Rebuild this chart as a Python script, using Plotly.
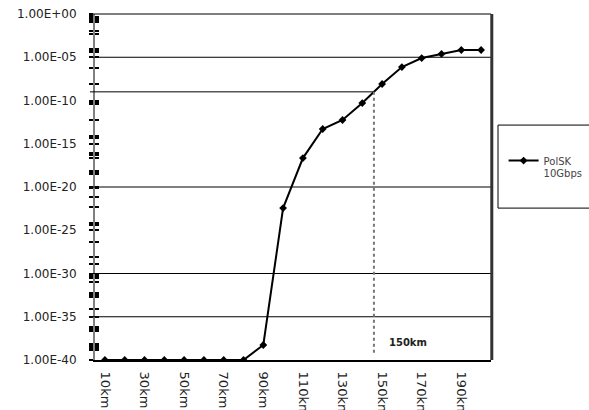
import numpy as np
import plotly.graph_objects as go

# Fibre length and measured bit error rate for the PolSK 10 Gbps link
distance_km = [10, 20, 30, 40, 50, 60, 70, 80, 90, 100,
               110, 120, 130, 140, 150, 160, 170, 180, 190, 200]
ber = [1e-40, 1e-40, 1e-40, 1e-40, 1e-40, 1e-40, 1e-40, 1e-40, 5.4e-39, 3.7e-23,
       2.2e-17, 5.1e-14, 5.6e-13, 5.1e-11, 8.1e-9, 7.4e-7, 8.1e-6, 2.4e-5, 6.9e-5, 6.9e-5]
series_name = "PolSK<br>10Gbps"

x_tick_vals = [10, 30, 50, 70, 90, 110, 130, 150, 170, 190]
x_tick_text = ["10km", "30km", "50km", "70km", "90km",
               "110km", "130km", "150km", "170km", "190km"]

y_tick_vals = [1e0, 1e-5, 1e-10, 1e-15, 1e-20, 1e-25, 1e-30, 1e-35, 1e-40]
y_tick_text = ["1.00E+00", "1.00E-05", "1.00E-10", "1.00E-15", "1.00E-20",
               "1.00E-25", "1.00E-30", "1.00E-35", "1.00E-40"]

# exponents of the crowded minor tick marks along the value axis
minor_tick_exps = [0.1, 0.3, 0.5, 0.7, 0.9, 2.0, 2.3, 4.0, 4.3, 4.4, 6.2, 8.1,
                   10.2, 10.4, 12.3, 14.1, 14.3, 16.1, 16.3, 16.6, 18.1, 18.3, 18.5,
                   20.1, 21.1, 22.3, 24.2, 24.4, 26.4, 28.1, 28.9, 30.1, 30.3, 30.5,
                   31.0, 32.3, 32.5, 32.7, 34.1, 36.2, 36.4, 36.6, 38.2, 38.4, 38.6, 38.8]

grid_levels = [1e-5, 1e-20, 1e-30, 1e-35]   # full-width reference lines
threshold_ber = 1e-9                        # reach limit marked on the chart
reach_label = "150km"

Y_LOG_RANGE = [-40, 0]
X_RANGE = [5, 205]


def y_paper(v):
    """Position of a BER value as a fraction of the plot height."""
    return (np.log10(v) - Y_LOG_RANGE[0]) / (Y_LOG_RANGE[1] - Y_LOG_RANGE[0])


def x_paper(d):
    return (d - X_RANGE[0]) / (X_RANGE[1] - X_RANGE[0])


# distance at which the curve crosses the threshold (interpolated in log space)
log_ber = np.log10(ber)
t = np.log10(threshold_ber)
i = int(np.argmax(log_ber >= t))
x_cross = distance_km[i - 1] + (t - log_ber[i - 1]) / (log_ber[i] - log_ber[i - 1]) * (
    distance_km[i] - distance_km[i - 1])

fig = go.Figure()
fig.add_trace(go.Scatter(
    x=distance_km, y=ber, name=series_name, mode="lines+markers",
    line=dict(color="black", width=2),
    marker=dict(color="black", size=6, symbol="diamond"),
))
# empty companion trace so the mirrored tick axis is laid out
fig.add_trace(go.Scatter(x=[], y=[], yaxis="y2", showlegend=False, hoverinfo="skip"))

left_pad = -0.0126
shapes = []
for v in grid_levels:
    shapes.append(dict(type="line", xref="paper", yref="paper", x0=left_pad, x1=1,
                       y0=y_paper(v), y1=y_paper(v), line=dict(color="black", width=1)))
# threshold line stops at the curve, then drops to the axis
yt = y_paper(threshold_ber)
shapes.append(dict(type="line", xref="paper", yref="paper", x0=left_pad,
                   x1=x_paper(x_cross), y0=yt, y1=yt,
                   line=dict(color="black", width=1)))
shapes.append(dict(type="line", xref="paper", yref="paper",
                   x0=x_paper(x_cross), x1=x_paper(x_cross), y0=yt, y1=0.02,
                   line=dict(color="#777777", width=2, dash="3px,3px")))
# frame: top edge and heavy right edge
shapes.append(dict(type="line", xref="paper", yref="paper", x0=left_pad, x1=1,
                   y0=1, y1=1, line=dict(color="black", width=1)))
shapes.append(dict(type="line", xref="paper", yref="paper", x0=1.002, x1=1.002,
                   y0=0, y1=1, line=dict(color="#333333", width=3)))
# legend frame
shapes.append(dict(type="rect", xref="paper", yref="paper", x0=1.0177, x1=1.35,
                   y0=0.439, y1=0.679, line=dict(color="black", width=1)))

minor_vals = [10 ** (-e) for e in minor_tick_exps]
tick_font = dict(family="DejaVu Sans", size=12, color="#222222")

fig.update_layout(
    width=589, height=410,
    margin=dict(l=95, r=98, t=14, b=50, autoexpand=False),
    paper_bgcolor="white", plot_bgcolor="white",
    template="none",
    showlegend=True,
    legend=dict(xref="container", yref="container", x=0.855, y=0.64,
                xanchor="left", yanchor="top",
                bgcolor="rgba(0,0,0,0)", borderwidth=0, valign="top",
                font=dict(family="DejaVu Sans", size=10, color="#444444"),
                itemwidth=30),
    shapes=shapes,
    annotations=[dict(text="<b>" + reach_label + "</b>", xref="paper", yref="paper",
                      x=0.79, y=0.052, xanchor="center", yanchor="middle",
                      showarrow=False,
                      font=dict(family="DejaVu Sans", size=10, color="#222222"))],
    xaxis=dict(type="linear", range=X_RANGE, tickmode="array",
               tickvals=x_tick_vals, ticktext=x_tick_text, tickangle=90,
               ticks="", ticklabelstandoff=7, showgrid=False, zeroline=False,
               automargin=False, showline=True, linecolor="black", linewidth=2,
               tickfont=dict(family="DejaVu Sans", size=13, color="#222222")),
    yaxis=dict(type="log", range=Y_LOG_RANGE, tickmode="array",
               tickvals=y_tick_vals, ticktext=y_tick_text, tickfont=tick_font,
               ticks="outside", ticklen=4, tickwidth=2, tickcolor="black",
               ticklabelstandoff=10,
               minor=dict(tickmode="array", tickvals=minor_vals, ticks="outside",
                          ticklen=4, tickwidth=2, tickcolor="black", showgrid=False),
               showgrid=False, zeroline=False, automargin=False,
               showline=True, linecolor="#808080", linewidth=2),
    yaxis2=dict(type="log", range=Y_LOG_RANGE, overlaying="y", anchor="x", side="left",
                tickmode="array", tickvals=y_tick_vals, showticklabels=False,
                ticks="inside", ticklen=4, tickwidth=2, tickcolor="black",
                minor=dict(tickmode="array", tickvals=minor_vals, ticks="inside",
                           ticklen=4, tickwidth=2, tickcolor="black", showgrid=False),
                showgrid=False, zeroline=False, showline=False, automargin=False),
)

fig.write_html("out.html")
